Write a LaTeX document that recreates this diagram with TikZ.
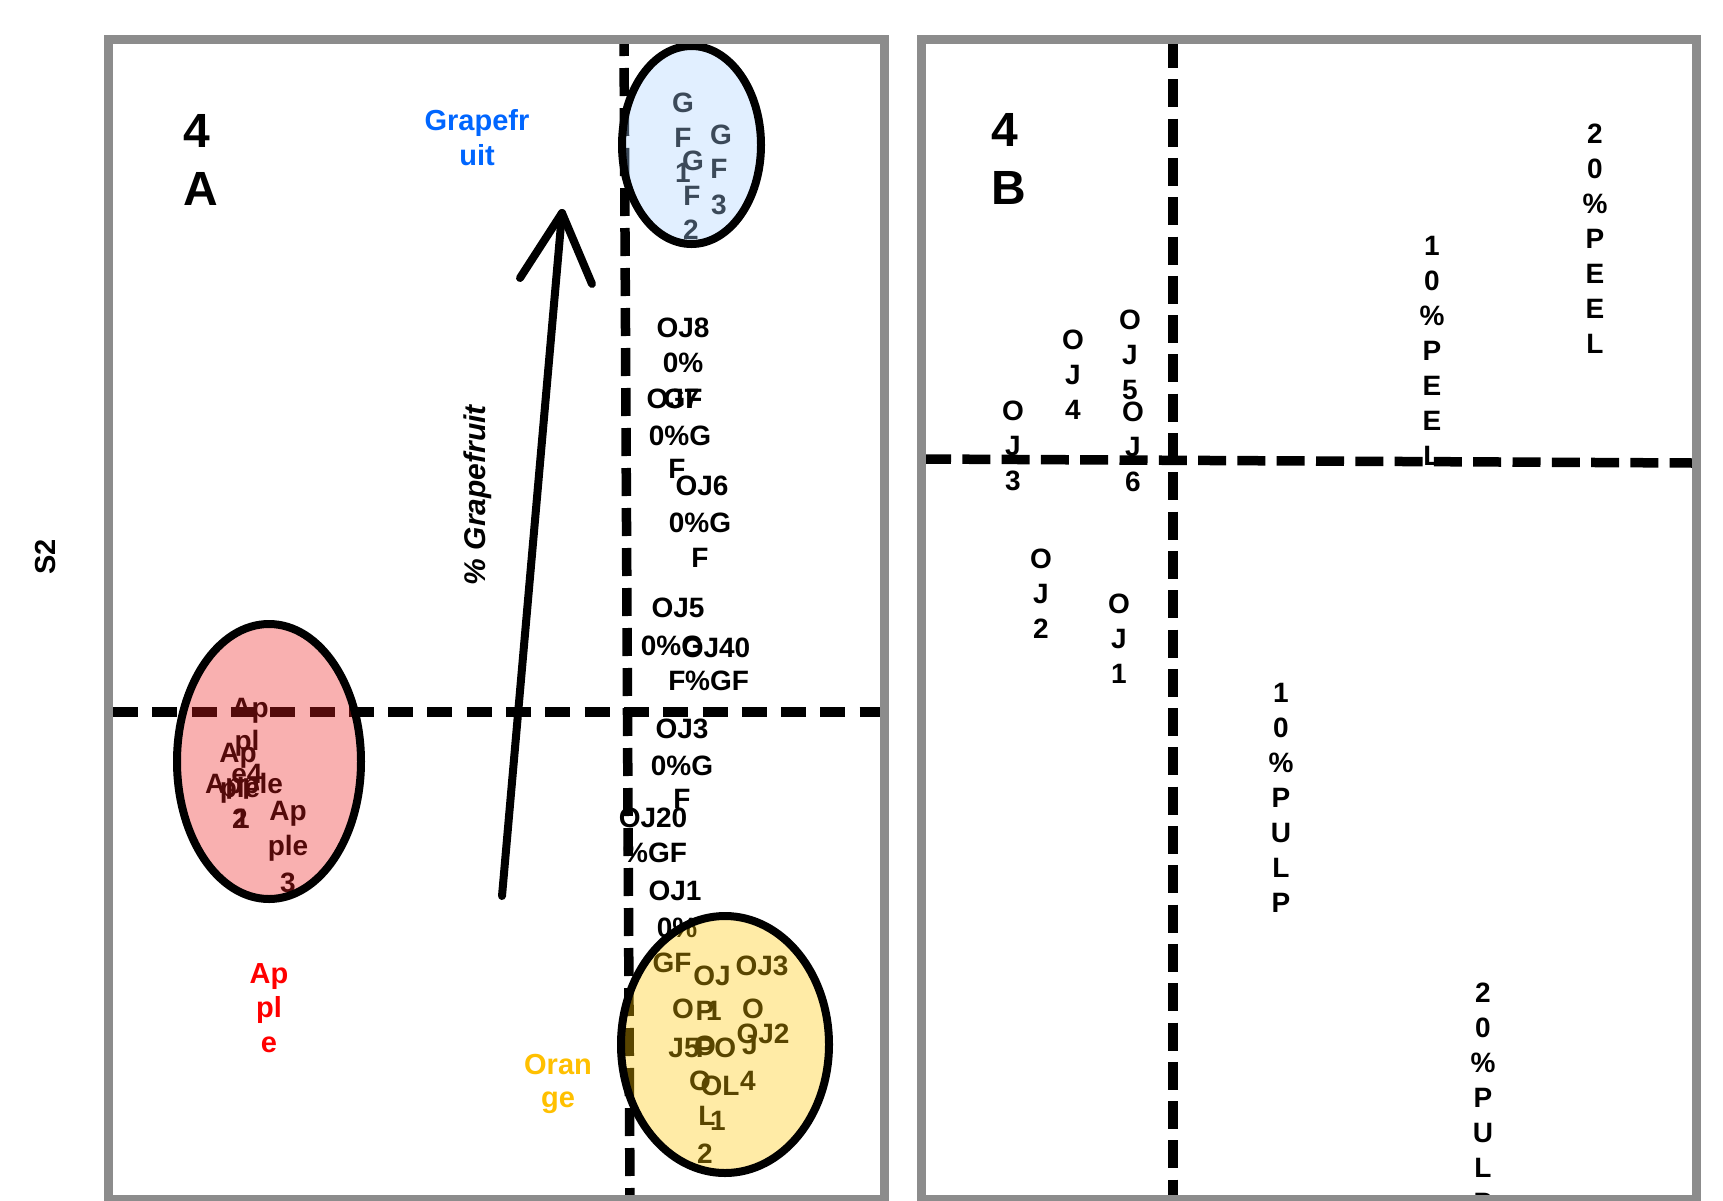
\documentclass[tikz,border=0pt]{standalone}
\usepackage{fontspec}
\setmainfont{Liberation Sans}
\definecolor{boxgray}{RGB}{140,140,140}
\definecolor{gfblue}{RGB}{0,102,255}
\definecolor{applered}{RGB}{255,0,0}
\definecolor{orgold}{RGB}{255,192,0}
\definecolor{gffill}{RGB}{170,212,255}
\definecolor{apfill}{RGB}{240,30,30}
\definecolor{orfill}{RGB}{255,200,0}
\newcommand\labrow[3][lab]{\foreach \xx/\yy/\tx [count=\i] in {#3} {\node[#1] (#2-\i) at (\xx,\yy) {\tx};}}
\newcommand\vstack[4]{\foreach \tx [count=\i from 0] in {#4} {\node[lab] (#1-\i) at (#2,#3+35*\i) {\tx};}}
\begin{document}
\begin{tikzpicture}[x=1pt,y=-1pt,
  lab/.style={font=\fontsize{28pt}{28pt}\selectfont\bfseries,inner sep=0pt,anchor=base,yshift=-10pt},
  big/.style={font=\fontsize{29pt}{29pt}\selectfont\bfseries,inner sep=0pt,anchor=base,yshift=-10.4pt},
  panel/.style={font=\fontsize{48pt}{48pt}\selectfont\bfseries,inner sep=0pt,anchor=base west,yshift=-17.2pt},
  dashline/.style={line width=9.5pt},
  ring/.style={line width=8pt},
  frame/.style={draw=boxgray,line width=9pt},
  arrowline/.style={line width=8pt,line cap=round,line join=round}]
\fill[white] (0,0) rectangle (1723,1200);
\useasboundingbox (0,0) rectangle (1723,1200);
% axes
\coordinate (avt) at (624,40); \coordinate (avb) at (630,1200);
\coordinate (ahl) at (113,712); \coordinate (ahr) at (880,712);
\coordinate (bvt) at (1173,40); \coordinate (bvb) at (1173,1200);
\coordinate (bhl) at (923,459); \coordinate (bhr) at (1693,463);
\draw[dashline,dash pattern=on 28pt off 12pt,dash phase=12pt] (avt) -- (avb);
\draw[dashline,dash pattern=on 25pt off 14.3pt] (ahl) -- (ahr);
\draw[dashline,dash pattern=on 28pt off 11.3pt] (bvt) -- (bvb);
\draw[dashline,dash pattern=on 28pt off 11.3pt] (bhl) -- (bhr);
% arrow
\coordinate (arrbase) at (502,896); \coordinate (arrtip) at (562,213);
\coordinate (arrL) at (520,278); \coordinate (arrR) at (592,284);
\draw[arrowline] (arrbase) -- (arrtip);
\draw[arrowline] (arrL) -- (arrtip) -- (arrR);
% panel letters
\node[panel] (p4a) at (183,130) {4};
\node[panel] (pa) at (183,188) {A};
\node[panel] (p4b) at (991,129) {4};
\node[panel] (pb) at (991,187) {B};
% axis and group labels
\node[font=\fontsize{29pt}{29pt}\selectfont\bfseries,rotate=90,inner sep=0pt] (s2) at (46,557) {S2};
\node[font=\fontsize{30pt}{30pt}\selectfont\bfseries\itshape,rotate=90,inner sep=0pt] (pctgf) at (478,495) {\% Grapefruit};
\labrow[big,text=gfblue]{grapelab}{477/120/Grapefr,477/155/uit}
\labrow[big,text=applered]{applelab}{269/973/Ap,269/1007/pl,269/1042/e}
\labrow[big,text=orgold]{orangelab}{558/1064/Oran,558/1097/ge}
% panel A data labels
\labrow{oj8}{683/327/OJ8,683/362/0\%,683/398/GF}
\labrow{oj7}{673/398/OJ7,680/435/0\%G,677/468/F}
\labrow{oj6}{702/485/OJ6,700/522/0\%G,700/557/F}
\labrow{oj5}{678/607/OJ5,672/645/0\%G,677/680/F}
\labrow{oj4}{716/647/OJ40,717/680/\%GF}
\labrow{oj3}{682/728/OJ3,682/765/0\%G,682/798/F}
\labrow{oj2}{653/817/OJ20,655/852/\%GF}
\labrow{oj1}{675/890/OJ1,677/927/0\%,672/962/GF}
\labrow{gf1}{683/102/G,683/137/F,683/172/1}
\labrow{gf2}{693/160/G,692/195/F,691/229/2}
\labrow{gf3}{721/134/G,719/168/F,719/204/3}
\labrow{or3}{762/965/OJ3}
\labrow{or1}{712/975/OJ,714/1010/1}
\labrow{or5}{683/1008/O,684/1047/J5}
\labrow{or2}{763/1033/OJ2}
\labrow{or4}{753/1008/O,750/1044/J,748/1080/4}
\labrow{pool1}{716/1047/PO,720/1085/OL,718/1120/1}
\labrow{pool2}{705/1010/P,705/1045/O,700/1080/O,707/1115/L,705/1153/2}
\labrow{ap4}{250/707/Ap,247/740/pl,247/773/e4}
\labrow{ap2}{238/752/Ap,240/787/ple,240/818/2}
\labrow{ap1}{244/783/Apple,242/818/1}
\labrow{ap3}{288/810/Ap,288/845/ple,288/882/3}
% panel B labels
\vstack{boj3}{1013}{410}{O,J,3}
\vstack{boj4}{1073}{339}{O,J,4}
\vstack{boj5}{1130}{319}{O,J,5}
\vstack{boj6}{1133}{411}{O,J,6}
\vstack{boj2}{1041}{558}{O,J,2}
\vstack{boj1}{1119}{603}{O,J,1}
\vstack{pulpa}{1281}{692}{1,0,\%,P,U,L,P}
\vstack{pulpb}{1483}{992}{2,0,\%,P,U,L,P}
\vstack{peela}{1432}{245}{1,0,\%,P,E,E,L}
\vstack{peelb}{1595}{133}{2,0,\%,P,E,E,L}
% group ellipses
\fill[gffill,fill opacity=0.35] (691.5,145) ellipse [x radius=69.5pt,y radius=99pt];
\fill[apfill,fill opacity=0.35] (269,761.5) ellipse [x radius=92pt,y radius=137.5pt];
\fill[orfill,fill opacity=0.35] (725,1044.5) ellipse [x radius=104pt,y radius=128.5pt];
\draw[ring] (691.5,145) ellipse [x radius=69.5pt,y radius=99pt];
\draw[ring] (269,761.5) ellipse [x radius=92pt,y radius=137.5pt];
\draw[ring] (725,1044.5) ellipse [x radius=104pt,y radius=128.5pt];
% frames
\draw[frame] (108.5,39.5) rectangle (884,1199.5);
\draw[frame] (921.5,39.5) rectangle (1696,1199.5);
\end{tikzpicture}
\end{document}
